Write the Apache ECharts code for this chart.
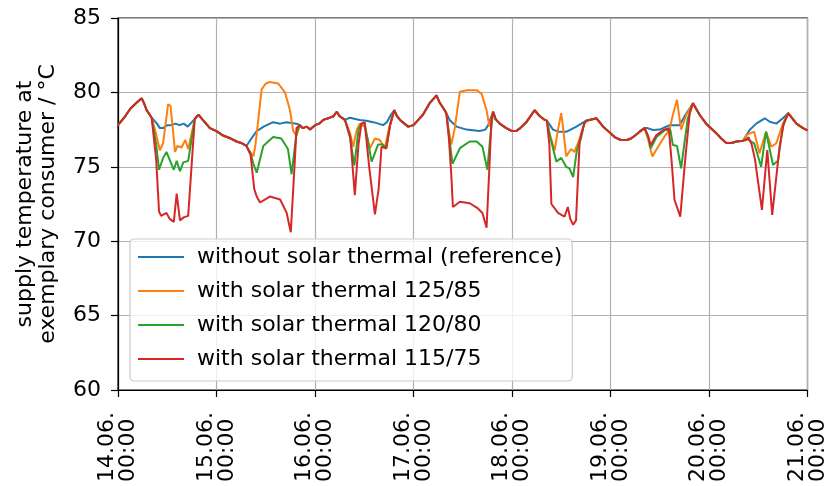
<!DOCTYPE html>
<html>
<head>
<meta charset="utf-8">
<script src="https://cdn.jsdelivr.net/npm/echarts@6/dist/echarts.min.js"></script>
<style>
html,body{margin:0;padding:0;background:#fff;}
#chart{width:829px;height:486px;}
</style>
</head>
<body>
<div id="chart"></div>
<script>
// x values are hours since 14.06. 00:00
const dayLabels = ['14.06.', '15.06.', '16.06.', '17.06.', '18.06.', '19.06.', '20.06.', '21.06.'];
const timeLabel = '00:00';
const seriesNames = [
  'without solar thermal (reference)',
  'with solar thermal 125/85',
  'with solar thermal 120/80',
  'with solar thermal 115/75'
];

// periods where all four curves coincide
const sharedPoints = [
  [0,77.8],[1.5,78.3],[3,78.9],[4.5,79.3],[5.8,79.6],[6.3,79.3],[7,78.8],[8.2,78.3],[8.6,78.2],
  [19.6,78.5],[20.5,78.2],[22.4,77.6],[24,77.4],[25.6,77.1],[27.5,76.9],[28.9,76.7],[30,76.6],[31.3,76.4],[31.7,76.35],
  [44.3,77.8],[45,77.6],[46,77.7],[46.8,77.5],[48,77.8],[49,77.9],[50,78.15],[51.6,78.3],[52.5,78.4],[53.3,78.7],[54,78.4],[55.3,78.15],[55.7,78.2],
  [67.3,78.8],[68,78.4],[68.7,78.15],[70.7,77.7],[72,77.8],[73,78.1],[74.3,78.5],[76,79.3],[77.6,79.8],[78.4,79.3],[79.6,78.8],[80,78.6],
  [91.4,78.7],[92,78.2],[93,77.9],[94.6,77.6],[96,77.4],[97,77.4],[98,77.6],[99.5,78.0],[101.5,78.8],[102.8,78.4],[104,78.15],[104.5,78.1],
  [116.6,78.26],[118.2,77.7],[120,77.25],[121,77.0],[122.5,76.8],[124,76.8],[125,76.9],[126,77.1],[127.1,77.36],[128.3,77.6],
  [140.3,79.3],[141.7,78.5],[143.3,77.9],[145.8,77.25],[147,76.9],[148.2,76.6],[149.5,76.6],[150.7,76.7],[152.3,76.75],[152.7,76.8],
  [163.3,78.6],[165.3,77.9],[166.9,77.6],[168,77.45]
];

const blueDays = [
  [9.5,77.9],[10.2,77.6],[11,77.6],[12,77.8],[13,77.8],[14,77.9],[15,77.8],[16,77.9],[17,77.7],[18,78.0],
  [32.5,76.9],[33.8,77.4],[35.5,77.7],[37.8,78.0],[39.5,77.9],[41,78.0],[43.5,77.9],
  [56.5,78.3],[58.9,78.15],[60.5,78.1],[62.2,78.0],[64.6,77.8],[65.5,78.0],[66.5,78.5],
  [80.8,78.15],[82.5,77.7],[84.9,77.5],[88.1,77.4],[89.5,77.5],[90.2,77.8],
  [105,77.9],[106,77.5],[107.5,77.35],[109.2,77.35],[111.7,77.7],[114.1,78.1],
  [129,77.6],[130.4,77.47],[132,77.5],[134.4,77.8],[136.8,77.8],[138,78.37],[140.1,79.27],
  [153.9,77.47],[155.5,77.9],[157.6,78.26],[158.8,78.03],[160.4,77.9],[162,78.26]
];

const orangeDays = [
  [9.2,77.3],[10.2,76.1],[11,76.6],[12.2,79.2],[12.8,79.1],[13.9,76.0],[14.5,76.4],[15.5,76.3],[16.4,76.8],[17.1,76.2],[18.7,78.2],
  [32.2,76.0],[33,75.7],[33.5,76.5],[35,80.2],[36,80.6],[37,80.7],[39,80.6],[40.7,80.0],[41.9,78.8],[42.7,77.4],[43.5,77.1],
  [56.5,77.3],[57.3,76.35],[58.2,77.5],[58.9,77.9],[60.1,77.7],[61.4,76.25],[62.6,76.9],[63.8,76.8],[65,76.25],[66.2,77.8],
  [80.5,77.6],[81.2,76.5],[82,77.5],[83.3,80.05],[85,80.15],[87.4,80.15],[88.6,79.9],[89.8,78.8],[90.5,77.7],
  [105.2,77.2],[106.4,76.1],[107.2,77.5],[108,78.6],[108.5,77.5],[109.2,75.7],[110.4,76.2],[111.2,76.0],[112.5,76.9],[113.6,77.9],[114.1,78.1],
  [129.2,76.8],[129.8,76.1],[130.2,75.7],[131.6,76.35],[133.3,77.1],[134.4,77.5],[135.2,78.5],[136.2,79.5],[136.7,78.5],[137.2,77.5],[138.5,78.5],[140.1,79.27],
  [153.1,77.14],[155,77.36],[156.3,75.9],[157.9,77.36],[159.2,76.35],[160.4,76.58],[162,77.9]
];

const greenDays = [
  [9.3,76.5],[10,74.8],[11,75.6],[11.8,76.0],[12.7,75.4],[13.6,74.8],[14.3,75.4],[15.1,74.7],[15.9,75.3],[17.1,75.4],[18.7,78.2],
  [32.3,75.9],[33,75.2],[33.8,74.6],[35.4,76.4],[37.8,77.0],[39.8,76.9],[41.4,76.2],[42.3,74.5],[43.5,77.3],
  [56.5,77.0],[57.6,75.1],[58.6,77.5],[59.3,77.9],[60.1,77.9],[61.8,75.35],[63.4,76.5],[64.6,76.5],[65.3,76.2],[66.3,77.8],
  [80.6,77.2],[81.5,75.2],[83.3,76.25],[85.7,76.7],[87.4,76.7],[88.8,76.35],[90,74.8],[90.7,77.0],
  [105.3,77.0],[106.8,75.35],[108,75.6],[109.2,75.0],[110,74.9],[110.9,74.3],[111.8,76.1],[112.8,76.9],[113.6,77.9],[114.1,78.1],
  [129.2,77.0],[129.8,76.24],[131.2,77.0],[133.3,77.47],[134.6,77.47],[135.2,76.46],[136.2,76.4],[137.2,74.9],[138.8,78.2],[140.1,79.27],
  [153.1,76.9],[155,76.58],[156.7,75.0],[157.9,77.36],[159.6,75.12],[160.8,75.4],[162,77.7]
];

const redDays = [
  [9.3,75.5],[10,72.0],[10.5,71.7],[11.8,71.9],[12.6,71.5],[13.6,71.3],[14.3,73.2],[15.1,71.4],[16,71.6],[17.1,71.7],[18.7,78.2],
  [32.3,75.8],[33.2,73.5],[33.8,73.0],[34.6,72.6],[37,73.0],[39.5,72.8],[41.1,71.9],[42.1,70.6],[42.9,74.5],[43.5,77.6],
  [56.6,77.0],[57.7,73.1],[58.6,76.5],[59.3,77.9],[60.1,78.0],[61.2,75.0],[62.6,71.8],[63.5,73.5],[64.2,76.35],[65.4,76.25],[66.3,77.8],
  [80.6,77.0],[81.2,74.5],[81.6,72.3],[83.3,72.65],[85.7,72.55],[87.7,72.2],[88.8,71.9],[89.8,70.9],[90.5,75.0],[91,78.2],
  [105.1,76.5],[105.6,72.5],[107.2,71.9],[108.8,71.65],[109.6,72.3],[110.2,71.5],[110.9,71.1],[111.6,71.4],[112.5,76.8],[113.6,77.9],[114.1,78.1],
  [129,77.2],[129.8,76.46],[131.2,77.14],[132.9,77.47],[134.2,77.6],[135,75.0],[135.6,72.77],[136.2,72.3],[137,71.65],[138.2,75.5],[139.3,78.6],[140.1,79.27],
  [153.1,76.8],[153.6,77.0],[154.4,76.5],[155.2,75.5],[156.9,72.1],[158.2,76.13],[159.4,71.76],[161.2,76.35],[162.2,77.9]
];

const seriesColors = ['#1f77b4', '#ff7f0e', '#2ca02c', '#d62728'];

function merge(own) {
  return sharedPoints.concat(own).sort((a, b) => a[0] - b[0]);
}
const allDays = [blueDays, orangeDays, greenDays, redDays];

const FONT = 'DejaVu Sans';
const chart = echarts.init(document.getElementById('chart'), null, {renderer: 'canvas'});
chart.setOption({
  animation: false,
  backgroundColor: '#fff',
  textStyle: {fontFamily: FONT},
  grid: {left: 118, right: 21, top: 18, bottom: 96, show: true, borderColor: '#000', borderWidth: 1.2, backgroundColor: 'transparent'},
  xAxis: {
    type: 'value', min: 0, max: 168, interval: 24,
    axisLine: {show: true, onZero: false, lineStyle: {color: '#000', width: 1.2}},
    axisTick: {show: true, inside: false, length: 7, lineStyle: {color: '#000', width: 1.2}},
    splitLine: {show: true, lineStyle: {color: '#b0b0b0', width: 1.2}},
    axisLabel: {
      rotate: 90, margin: 22, color: '#000', fontFamily: FONT, fontSize: 22, lineHeight: 21,
      formatter: v => '{a|' + dayLabels[Math.round(v / 24)] + '}\n{a|' + timeLabel + '}',
      rich: {a: {align: 'left', fontFamily: FONT, fontSize: 22, lineHeight: 21, color: '#000'}}
    }
  },
  yAxis: {
    type: 'value', min: 60, max: 85, interval: 5,
    name: 'supply temperature at\nexemplary consumer / °C',
    nameLocation: 'middle', nameRotate: 90, nameGap: 58,
    nameTextStyle: {fontFamily: FONT, fontSize: 22, color: '#000', lineHeight: 23},
    axisLine: {show: true, lineStyle: {color: '#000', width: 1.2}},
    axisTick: {show: true, inside: false, length: 7, lineStyle: {color: '#000', width: 1.2}},
    splitLine: {show: true, lineStyle: {color: '#b0b0b0', width: 1.2}},
    axisLabel: {margin: 17, color: '#000', fontFamily: FONT, fontSize: 22}
  },
  legend: {
    orient: 'vertical', left: 130, top: 239,
    icon: 'rect',
    itemWidth: 46, itemHeight: 2, itemGap: 8,
    padding: [5, 10, 9, 8],
    backgroundColor: 'rgba(255,255,255,0.8)',
    borderColor: '#cccccc', borderWidth: 1.2, borderRadius: 4,
    textStyle: {fontFamily: FONT, fontSize: 22, color: '#000', lineHeight: 26, padding: [0, 0, 0, 8]},
    data: seriesNames
  },
  series: seriesNames.map((name, i) => ({
    name: name, type: 'line', symbol: 'none', smooth: false,
    color: seriesColors[i],
    lineStyle: {width: 2, color: seriesColors[i]},
    data: merge(allDays[i]),
    z: 2 + i
  }))
});
</script>
</body>
</html>
